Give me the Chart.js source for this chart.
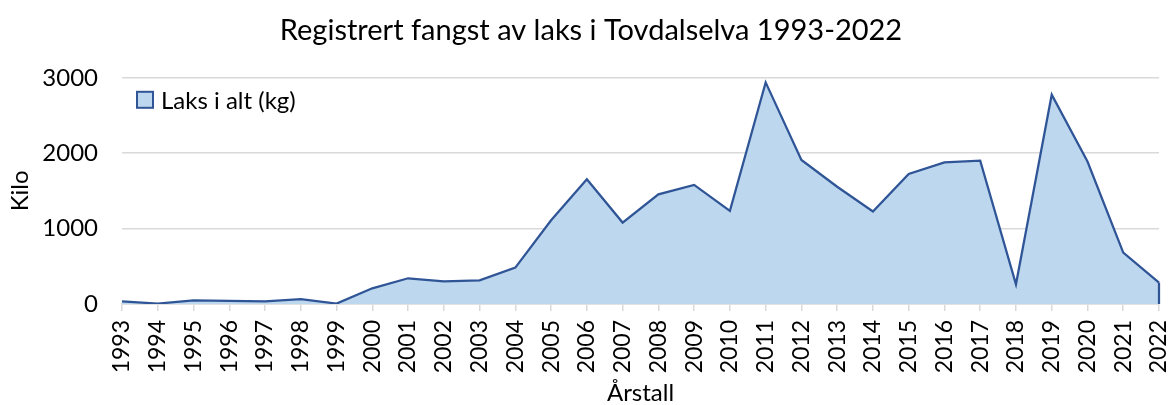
<!DOCTYPE html>
<html>
<head>
<meta charset="utf-8">
<script src="https://cdn.jsdelivr.net/npm/chart.js@4"></script>
<style>
html,body{margin:0;padding:0;background:#fff;}
#wrap{width:1176px;height:405px;}
</style>
</head>
<body>
<div id="wrap"><canvas id="c" width="1176" height="405"></canvas></div>
<script>
const years = ["1993","1994","1995","1996","1997","1998","1999","2000","2001","2002","2003","2004","2005","2006","2007","2008","2009","2010","2011","2012","2013","2014","2015","2016","2017","2018","2019","2020","2021","2022"];
const laksKg = [35,5,49,40,35,66,5,208,341,301,314,482,1110,1655,1080,1455,1580,1236,2939,1910,1555,1228,1726,1877,1902,261,2776,1890,682,283];
const yTickValues = [0,1000,2000,3000];
const seriesName = "Laks i alt (kg)";
const titleText = "Registrert fangst av laks i Tovdalselva 1993-2022";
const yTitle = "Kilo";
const xTitle = "Årstall";

const mainFont = "Lato, 'Open Sans', sans-serif";
const lineColor = '#2F5597';
const fillColor = '#BDD7EE';

const edgePlugin = {
  id: 'edge',
  afterDatasetsDraw(chart) {
    const meta = chart.getDatasetMeta(0);
    const last = meta.data[meta.data.length - 1];
    const y0 = chart.scales.y.getPixelForValue(0);
    const ctx = chart.ctx;
    ctx.save();
    ctx.strokeStyle = lineColor;
    ctx.lineWidth = 2.25;
    ctx.beginPath();
    ctx.moveTo(last.x, last.y);
    ctx.lineTo(last.x, y0);
    ctx.stroke();
    ctx.restore();
  }
};

const innerLegend = {
  id: 'innerLegend',
  afterDraw(chart) {
    const ctx = chart.ctx;
    const a = chart.chartArea;
    const bx = a.left + 15, by = a.top + 14, s = 16;
    ctx.save();
    ctx.fillStyle = fillColor;
    ctx.fillRect(bx, by, s, s);
    ctx.strokeStyle = lineColor;
    ctx.lineWidth = 2;
    ctx.strokeRect(bx, by, s, s);
    ctx.fillStyle = '#000';
    ctx.font = "24px " + mainFont;
    ctx.textBaseline = 'middle';
    ctx.textAlign = 'left';
    ctx.fillText(seriesName, bx + s + 8, by + s / 2 + 1);
    ctx.restore();
  }
};

new Chart(document.getElementById('c'), {
  type: 'line',
  data: {
    labels: years,
    datasets: [{
      label: seriesName,
      data: laksKg,
      borderColor: lineColor,
      backgroundColor: fillColor,
      borderWidth: 2.25,
      fill: 'origin',
      pointRadius: 0,
      tension: 0
    }]
  },
  options: {
    responsive: false,
    animation: false,
    layout: { padding: { left: 6, right: 0, top: 0, bottom: 0 } },
    plugins: {
      title: {
        display: true,
        text: titleText,
        color: '#000',
        font: { family: mainFont, size: 29, weight: 'normal' },
        padding: { top: 13, bottom: 30 }
      },
      legend: { display: false },
      tooltip: { enabled: false }
    },
    scales: {
      x: {
        offset: false,
        afterFit(scale) { scale.paddingRight = 17; scale.paddingLeft = 0; scale.height = 101; },
        grid: { display: true, drawOnChartArea: false, drawTicks: true, tickLength: 7, color: '#D9D9D9', lineWidth: 1.5 },
        border: { display: true, color: '#D9D9D9', width: 1.5 },
        ticks: {
          color: '#000',
          font: { family: mainFont, size: 23 },
          maxRotation: 90, minRotation: 90,
          autoSkip: false,
          padding: 9
        },
        title: {
          display: true,
          text: xTitle,
          color: '#000',
          font: { family: mainFont, size: 24, lineHeight: 1 },
          padding: { top: 0, bottom: 0 }
        }
      },
      y: {
        min: 0, max: 3000,
        afterFit(scale) { scale.width = 116; },
        afterBuildTicks(scale) { scale.ticks = yTickValues.map(v => ({ value: v })); },
        grid: { color: '#D9D9D9', lineWidth: 1.5, drawTicks: false },
        border: { display: false },
        ticks: {
          color: '#000',
          font: { family: mainFont, size: 24 },
          padding: 24,
          callback: (v) => String(v)
        },
        title: {
          display: true,
          text: yTitle,
          color: '#000',
          font: { family: mainFont, size: 24 },
          padding: { top: 0, bottom: 0 }
        }
      }
    }
  },
  plugins: [edgePlugin, innerLegend]
});
</script>
</body>
</html>
